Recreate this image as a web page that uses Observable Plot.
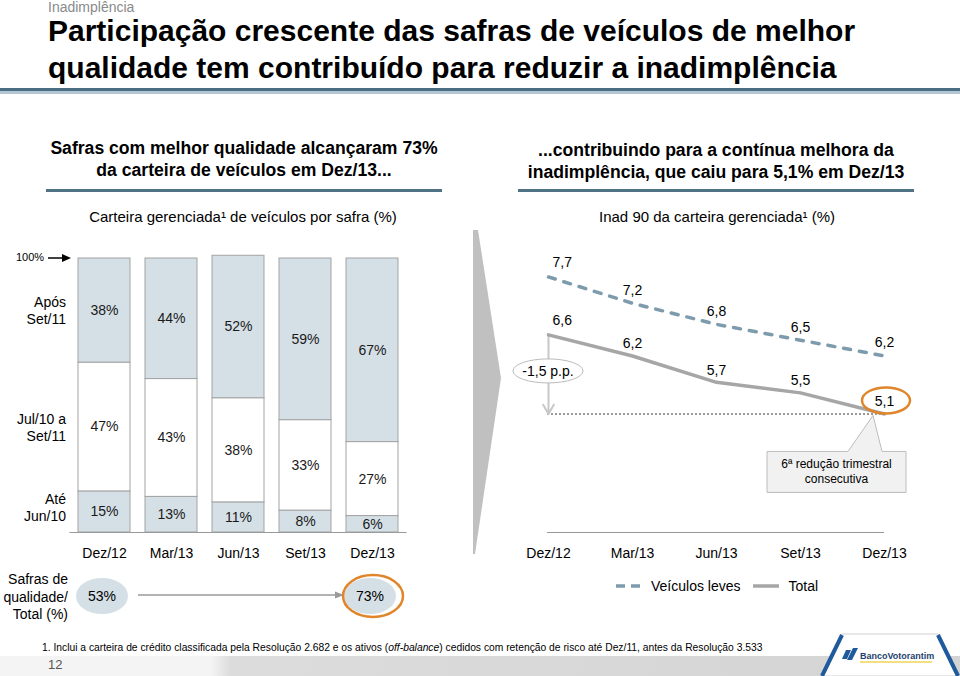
<!DOCTYPE html>
<html><head><meta charset="utf-8">
<script src="https://cdn.jsdelivr.net/npm/d3@7"></script>
<script src="https://cdn.jsdelivr.net/npm/@observablehq/plot@0.6"></script>
<style>
body{margin:0;width:960px;height:676px;position:relative;overflow:hidden;background:#fff;font-family:"Liberation Sans",Arial,sans-serif;color:#000}
.abs{position:absolute}
.title{font-size:30px;line-height:30px;font-weight:bold;white-space:nowrap}
.head{font-weight:bold;font-size:17.6px;line-height:22px;text-align:center;white-space:nowrap}
.sub{font-size:15px;line-height:16px;text-align:center;white-space:nowrap}
.rowlab{font-size:14px;line-height:17px;text-align:right}
</style></head><body>
<div class="abs" style="left:48px;top:0px;font-size:14px;line-height:14px;color:#8a8a8a">Inadimplência</div>
<div class="abs title" style="left:48px;top:16px">Participação crescente das safras de veículos de melhor</div>
<div class="abs title" style="left:48px;top:53px">qualidade tem contribuído para reduzir a inadimplência</div>
<div class="abs" style="left:0;top:88px;width:960px;height:3px;background:#4b6f82"></div>
<div class="abs" style="left:0;top:91px;width:960px;height:3px;background:#b4c6d1"></div>

<div class="abs head" style="left:44px;top:137px;width:400px">Safras com melhor qualidade alcançaram 73%<br>da carteira de veículos em Dez/13...</div>
<div class="abs" style="left:46px;top:189px;width:396px;height:3px;background:#4f7385"></div>
<div class="abs head" style="left:516px;top:139px;width:400px">...contribuindo para a contínua melhora da<br>inadimplência, que caiu para 5,1% em Dez/13</div>
<div class="abs" style="left:518px;top:189px;width:396px;height:3px;background:#4f7385"></div>

<div class="abs sub" style="left:43px;top:209px;width:400px">Carteira gerenciada¹ de veículos por safra (%)</div>
<div class="abs sub" style="left:517px;top:209px;width:400px">Inad 90 da carteira gerenciada¹ (%)</div>

<div id="left" class="abs" style="left:0;top:240px"></div>
<div id="right" class="abs" style="left:480px;top:240px"></div>

<svg class="abs" style="left:0;top:0" width="960" height="676" pointer-events="none">
  <polygon points="473,230 478,230 501,378 475,554 473,554" fill="#c0c0c0"/>
  <line x1="48" y1="258" x2="64" y2="258" stroke="#000" stroke-width="1.5"/>
  <polygon points="71,258 62,254 62,262" fill="#000"/>
</svg>
<div class="abs" style="left:16px;top:251px;font-size:11px">100%</div>

<div class="abs rowlab" style="left:0;top:294px;width:66px">Após<br>Set/11</div>
<div class="abs rowlab" style="left:0;top:411px;width:66px">Jul/10 a<br>Set/11</div>
<div class="abs rowlab" style="left:0;top:491px;width:66px">Até<br>Jun/10</div>
<div class="abs rowlab" style="left:0;top:571px;width:68px;line-height:17.5px">Safras de<br>qualidade/<br>Total (%)</div>

<div class="abs" style="left:612px;top:577px;font-size:14px;line-height:18px;display:flex;align-items:center">
  <svg width="32" height="10"><line x1="4" y1="5" x2="30" y2="5" stroke="#7d9bad" stroke-width="3.5" stroke-dasharray="9,6"/></svg>
  <span style="margin-left:7px">Veículos leves</span>
  <svg width="32" height="10" style="margin-left:8px"><line x1="4" y1="5" x2="30" y2="5" stroke="#a6a6a6" stroke-width="3.5"/></svg>
  <span style="margin-left:8px">Total</span>
</div>

<div class="abs" style="left:0;top:656px;width:960px;height:20px;background:linear-gradient(90deg,#f4f4f4 0%,#f4f4f4 22%,#dcdcdc 24%,#d4d4d4 100%)"></div>
<div class="abs" style="left:42px;top:642px;font-size:10.3px;white-space:nowrap">1. Inclui a carteira de crédito classificada pela Resolução 2.682 e os ativos (<i>off-balance</i>) cedidos com retenção de risco até Dez/11, antes da Resolução 3.533</div>
<div class="abs" style="left:48px;top:657px;font-size:13px;color:#555">12</div>
<svg class="abs" style="left:820px;top:626px" width="140" height="50">
  <polygon points="22,8 118,8 140,50 0,50" fill="#ffffff" stroke="#d0d0d0"/>
  <line x1="22" y1="9" x2="2" y2="50" stroke="#1e5a9c" stroke-width="4"/>
  <line x1="118" y1="9" x2="138" y2="50" stroke="#1e5a9c" stroke-width="4"/>
  <polygon points="26,24 31,24 27,33 22,33" fill="#1e5a9c"/>
  <polygon points="33,22 38,22 32,34 27,34" fill="#1e5a9c"/>
  <text x="40" y="33" font-size="9" font-weight="bold" fill="#1e3f6e" font-family="Liberation Sans Narrow, Liberation Sans, Arial">BancoVotorantim</text>
  <line x1="40" y1="36" x2="112" y2="36" stroke="#e6c200" stroke-width="1"/>
</svg>

<script>
// ---------- data ----------
const periods = ["Dez/12", "Mar/13", "Jun/13", "Set/13", "Dez/13"];
const safraSeries = ["Até Jun/10", "Jul/10 a Set/11", "Após Set/11"];
const ateJun10 = [15, 13, 11, 8, 6];
const jul10Set11 = [47, 43, 38, 33, 27];
const aposSet11 = [38, 44, 52, 59, 67];
const veiculosLeves = [7.7, 7.2, 6.8, 6.5, 6.2];
const totalInad = [6.6, 6.2, 5.7, 5.5, 5.1];
const fmt = v => String(v).replace(".", ",");
const FONT = '"Liberation Sans", Arial, sans-serif';

// ---------- left: stacked bars ----------
const stackRows = [];
periods.forEach((p, i) => {
  let base = 0;
  [[safraSeries[0], ateJun10[i]], [safraSeries[1], jul10Set11[i]], [safraSeries[2], aposSet11[i]]].forEach(([s, v]) => {
    stackRows.push({period: p, serie: s, y1: base, y2: base + v, mid: base + v / 2, value: v});
    base += v;
  });
});
const qualidade = periods.map((p, i) => ({period: p, value: ateJun10[i] + aposSet11[i]}));

const left = Plot.plot({
  width: 480, height: 380, marginTop: 18, marginBottom: 88, marginLeft: 61.5, marginRight: 65.5,
  x: {type: "band", domain: periods, padding: 0.23},
  y: {domain: [0, 100], axis: null},
  color: {type: "identity"},
  style: {fontFamily: FONT, fontSize: "14px", color: "#000", background: "transparent", overflow: "visible"},
  marks: [
    Plot.barY(stackRows, {x: "period", y1: "y1", y2: "y2",
      fill: d => d.serie === safraSeries[1] ? "#ffffff" : "#d5dfe6", stroke: "#a3a3a3", strokeWidth: 1}),
    Plot.text(stackRows, {x: "period", y: "mid", text: d => d.value + "%", fontSize: 14, fill: "#1a1a1a"}),
    Plot.ruleY([0], {stroke: "#999", strokeWidth: 1.2, insetLeft: 8, insetRight: 8}),
    Plot.axisX({tickSize: 0, tickPadding: 16, fontSize: 14, label: null, fill: "#000"})
  ]
});
document.getElementById("left").append(left);
{
  const xs = left.scale("x");
  const cx = p => xs.apply(p) + xs.bandwidth / 2;
  const svg = d3.select(left);
  const ey = 356;
  const q0 = qualidade[0], q1 = qualidade[qualidade.length - 1];
  svg.append("defs").html('<marker id="ah" viewBox="0 0 10 10" refX="9" refY="5" markerWidth="7" markerHeight="7" orient="auto"><path d="M0,1 L10,5 L0,9 z" fill="#9a9a9a"/></marker>');
  svg.append("line").attr("x1", cx(q0.period) + 34).attr("x2", cx(q1.period) - 29)
    .attr("y1", ey - 1).attr("y2", ey - 1).attr("stroke", "#9a9a9a").attr("stroke-width", 1.3).attr("marker-end", "url(#ah)");
  [q0, q1].forEach(q => {
    svg.append("ellipse").attr("cx", cx(q.period) - 2).attr("cy", ey).attr("rx", 26).attr("ry", 18).attr("fill", "#d5dfe6");
    svg.append("text").attr("x", cx(q.period) - 2).attr("y", ey).attr("dy", "0.35em").attr("text-anchor", "middle")
      .attr("font-size", 14).attr("font-family", FONT).text(q.value + "%");
  });
  svg.append("ellipse").attr("cx", cx(q1.period) + 1).attr("cy", ey).attr("rx", 30).attr("ry", 21)
    .attr("fill", "none").attr("stroke", "#e0852a").attr("stroke-width", 2.5);
}

// ---------- right: lines ----------
const leves = periods.map((p, i) => ({period: p, v: veiculosLeves[i], i}));
const tot = periods.map((p, i) => ({period: p, v: totalInad[i], i}));
const yBase = 2.85;
const right = Plot.plot({
  width: 480, height: 330, marginTop: 18, marginBottom: 38, marginLeft: 67, marginRight: 76,
  x: {type: "point", domain: periods, padding: 0},
  y: {domain: [yBase, 8.05], axis: null},
  style: {fontFamily: FONT, fontSize: "14px", color: "#000", background: "transparent", overflow: "visible"},
  marks: [
    Plot.ruleY([yBase], {stroke: "#999", strokeWidth: 1.2}),
    Plot.ruleY([totalInad[totalInad.length - 1]], {stroke: "#7a7a7a", strokeWidth: 1.5, strokeDasharray: "2,2"}),
    Plot.arrow([0], {x1: () => periods[0], y1: () => totalInad[0], x2: () => periods[0], y2: () => totalInad[totalInad.length - 1],
      stroke: "#c8c8c8", strokeWidth: 2, headLength: 8}),
    Plot.line(leves, {x: "period", y: "v", stroke: "#7d9bad", strokeWidth: 3.5, strokeDasharray: "7,9"}),
    Plot.line(tot, {x: "period", y: "v", stroke: "#a6a6a6", strokeWidth: 3.5}),
    Plot.text(leves, {filter: d => d.i === 0, x: "period", y: "v", text: d => fmt(d.v), dx: 4, dy: -14, textAnchor: "start", fontSize: 14}),
    Plot.text(leves, {filter: d => d.i > 0, x: "period", y: "v", text: d => fmt(d.v), dy: -13, fontSize: 14}),
    Plot.text(tot, {filter: d => d.i === 0, x: "period", y: "v", text: d => fmt(d.v), dx: 4, dy: -14, textAnchor: "start", fontSize: 14}),
    Plot.text(tot, {filter: d => d.i > 0, x: "period", y: "v", text: d => fmt(d.v), dy: -12, fontSize: 14}),
    Plot.axisX({tickSize: 0, tickPadding: 16, fontSize: 14, label: null, fill: "#000"})
  ]
});
document.getElementById("right").append(right);
{
  const xs = right.scale("x"), ys = right.scale("y");
  const svg = d3.select(right);
  const x0 = xs.apply(periods[0]);
  const yMid = ys.apply((totalInad[0] + totalInad[totalInad.length - 1]) / 2);
  svg.append("ellipse").attr("cx", x0).attr("cy", yMid - 3).attr("rx", 35).attr("ry", 12)
    .attr("fill", "#fff").attr("stroke", "#bbbbbb").attr("stroke-width", 1);
  svg.append("text").attr("x", x0).attr("y", yMid - 3).attr("dy", "0.35em").attr("text-anchor", "middle")
    .attr("font-size", 14).attr("font-family", FONT).text("-1,5 p.p.");
  const xl = xs.apply(periods[periods.length - 1]);
  const yl = ys.apply(totalInad[totalInad.length - 1]);
  svg.append("ellipse").attr("cx", xl + 2).attr("cy", yl - 13).attr("rx", 24).attr("ry", 13)
    .attr("fill", "none").attr("stroke", "#e0852a").attr("stroke-width", 2.5);
  const bx0 = xl - 117, bx1 = xl + 22, by0 = yl + 38, by1 = yl + 79;
  svg.append("path").attr("d", `M${bx0},${by0} L${xl - 36},${by0} L${xl - 11},${yl + 2} L${xl - 2},${by0} L${bx1},${by0} L${bx1},${by1} L${bx0},${by1} Z`)
    .attr("fill", "#f1f1f1").attr("stroke", "#bdbdbd").attr("stroke-width", 1);
  const t = svg.append("text").attr("text-anchor", "middle").attr("font-size", 12).attr("font-family", FONT);
  t.append("tspan").attr("x", (bx0 + bx1) / 2).attr("y", by0 + 17).text("6ª redução trimestral");
  t.append("tspan").attr("x", (bx0 + bx1) / 2).attr("y", by0 + 32).text("consecutiva");
}
</script>
</body></html>
